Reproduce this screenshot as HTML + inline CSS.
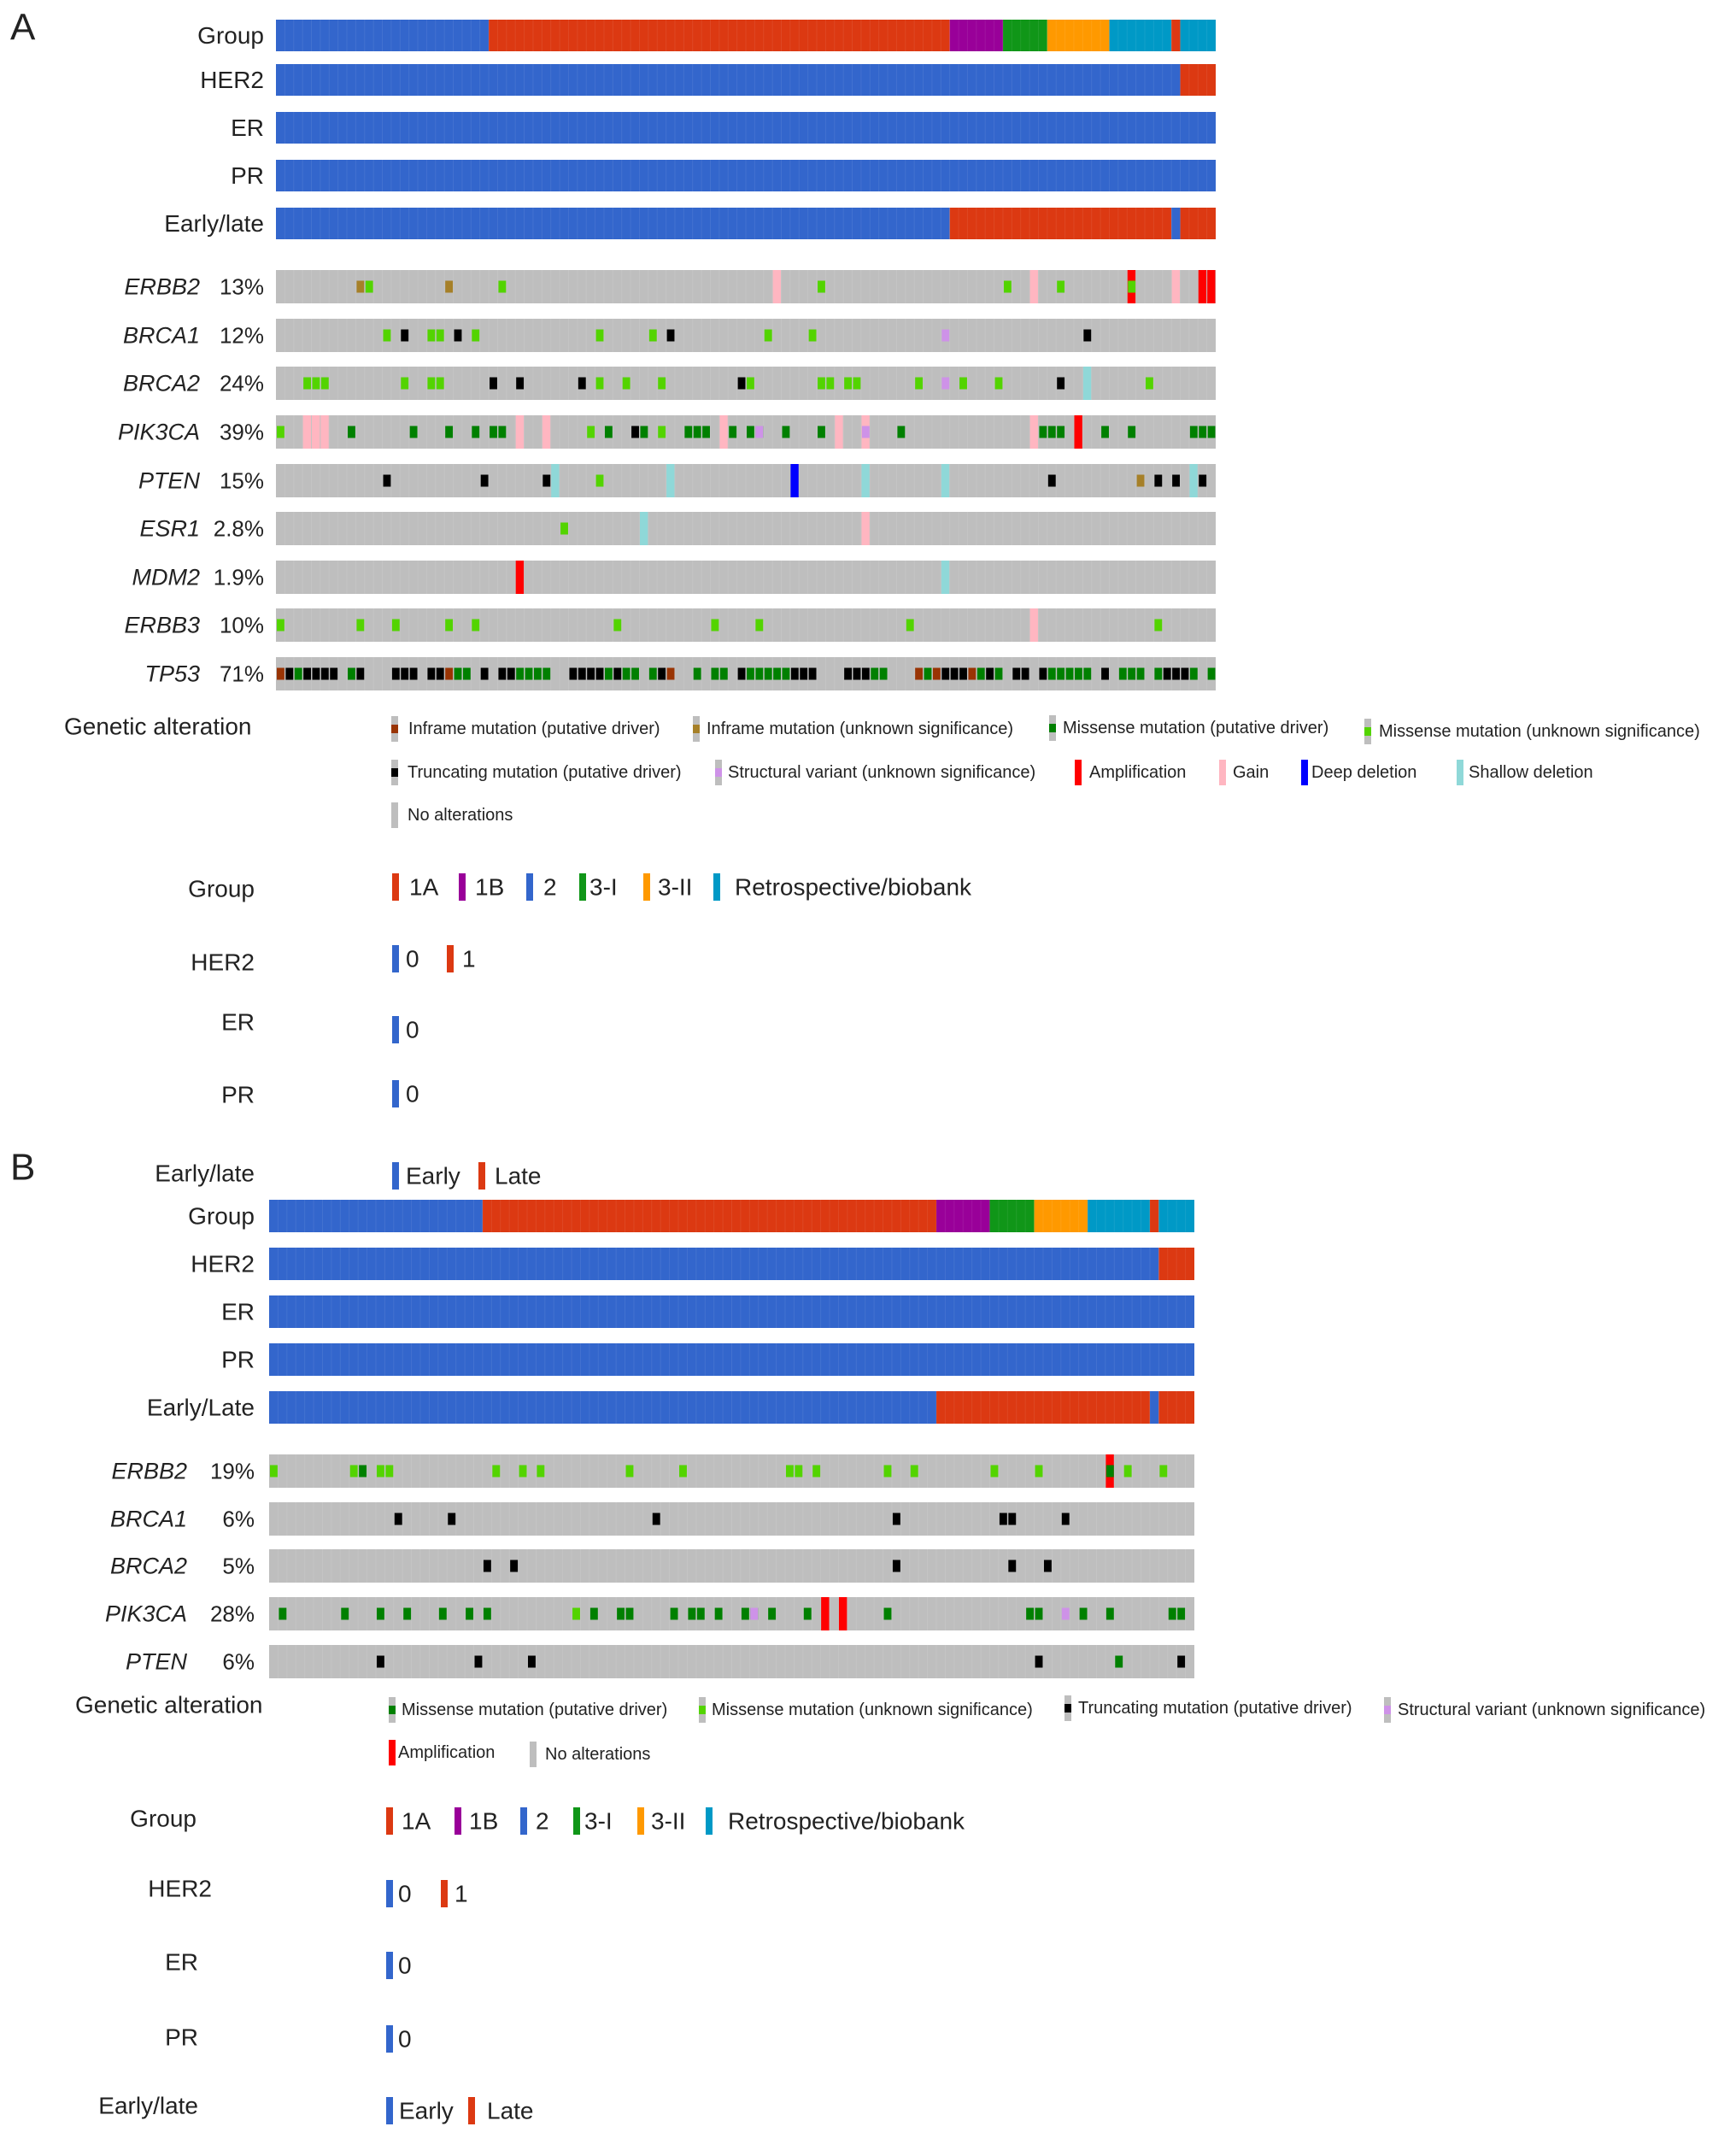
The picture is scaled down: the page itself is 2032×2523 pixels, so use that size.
<!DOCTYPE html>
<html><head><meta charset="utf-8"><style>
html,body{margin:0;padding:0;background:#fff;}
svg{display:block;font-family:"Liberation Sans",Arial,sans-serif;}
</style></head><body>
<svg id="chart" width="2032" height="2523" viewBox="0 0 2032 2523" xmlns="http://www.w3.org/2000/svg"></svg>
<script>
// ---------- DATA ----------
const clinCategories = ['1A','1B','2','3-I','3-II','Retrospective/biobank'];
const groupColors = {'1A':'#dc3912','1B':'#990099','2':'#3366cc','3-I':'#109618','3-II':'#ff9900','Retrospective/biobank':'#0099c6','0':'#3366cc','1':'#dc3912','Early':'#3366cc','Late':'#dc3912'};
const altColors = {M:'#008000',U:'#53d400',T:'#000000',I:'#993404',IU:'#a68028',SV:'#ce92e8',A:'#ff0000',G:'#ffb6c1',D:'#0000ff',S:'#8fd8d8'};
const cnaTypes = ['A','G','D','S'];

const nSamplesA = 106;
const groupA = [[0,24,'2'],[24,76,'1A'],[76,82,'1B'],[82,87,'3-I'],[87,94,'3-II'],[94,101,'Retrospective/biobank'],[101,102,'1A'],[102,106,'Retrospective/biobank']];
const her2A = [[0,102,'0'],[102,106,'1']];
const erA = [[0,106,'0']];
const prA = [[0,106,'0']];
const earlyA = [[0,76,'Early'],[76,101,'Late'],[101,102,'Early'],[102,106,'Late']];

const genesA = ['ERBB2','BRCA1','BRCA2','PIK3CA','PTEN','ESR1','MDM2','ERBB3','TP53'];
const pctA = ['13%','12%','24%','39%','15%','2.8%','1.9%','10%','71%'];
const A_ERBB2 = [[9,'IU'],[10,'U'],[19,'IU'],[25,'U'],[56,'G'],[61,'U'],[82,'U'],[85,'G'],[88,'U'],[96,'A'],[96,'U'],[101,'G'],[104,'A'],[105,'A']];
const A_BRCA1 = [[12,'U'],[14,'T'],[17,'U'],[18,'U'],[20,'T'],[22,'U'],[36,'U'],[42,'U'],[44,'T'],[55,'U'],[60,'U'],[75,'SV'],[91,'T']];
const A_BRCA2 = [[3,'U'],[4,'U'],[5,'U'],[14,'U'],[17,'U'],[18,'U'],[24,'T'],[27,'T'],[34,'T'],[36,'U'],[39,'U'],[43,'U'],[52,'T'],[53,'U'],[61,'U'],[62,'U'],[64,'U'],[65,'U'],[72,'U'],[75,'SV'],[77,'U'],[81,'U'],[88,'T'],[91,'S'],[98,'U']];
const A_PIK3CA = [[0,'U'],[3,'G'],[4,'G'],[5,'G'],[8,'M'],[15,'M'],[19,'M'],[22,'M'],[24,'M'],[25,'M'],[27,'G'],[30,'G'],[35,'U'],[37,'M'],[40,'T'],[41,'M'],[43,'U'],[46,'M'],[47,'M'],[48,'M'],[50,'G'],[51,'M'],[53,'M'],[54,'M'],[54,'SV'],[57,'M'],[63,'G'],[61,'M'],[66,'G'],[66,'SV'],[70,'M'],[85,'G'],[86,'M'],[87,'M'],[88,'M'],[90,'A'],[93,'M'],[96,'M'],[103,'M'],[104,'M'],[105,'M']];
const A_PTEN = [[12,'T'],[23,'T'],[30,'T'],[31,'S'],[36,'U'],[44,'S'],[58,'D'],[66,'S'],[75,'S'],[87,'T'],[97,'IU'],[99,'T'],[101,'T'],[103,'S'],[104,'T']];
const A_ESR1 = [[32,'U'],[41,'S'],[66,'G']];
const A_MDM2 = [[27,'A'],[75,'S']];
const A_ERBB3 = [[0,'U'],[9,'U'],[13,'U'],[19,'U'],[22,'U'],[38,'U'],[49,'U'],[54,'U'],[71,'U'],[85,'G'],[99,'U']];
const A_TP53 = [[0,'I'],[1,'T'],[2,'M'],[3,'T'],[4,'T'],[5,'T'],[6,'T'],[8,'M'],[9,'T'],[13,'T'],[14,'T'],[15,'T'],[17,'T'],[18,'T'],[19,'I'],[20,'M'],[21,'M'],[23,'T'],[25,'T'],[26,'T'],[27,'M'],[28,'M'],[29,'M'],[30,'M'],[33,'T'],[34,'T'],[35,'T'],[36,'T'],[37,'M'],[38,'T'],[39,'M'],[40,'M'],[42,'M'],[43,'T'],[44,'I'],[47,'M'],[49,'M'],[50,'M'],[52,'T'],[53,'M'],[54,'M'],[55,'M'],[56,'M'],[57,'M'],[58,'T'],[59,'T'],[60,'T'],[64,'T'],[65,'T'],[66,'T'],[67,'M'],[68,'M'],[72,'I'],[73,'M'],[74,'I'],[75,'T'],[76,'T'],[77,'T'],[78,'I'],[79,'M'],[80,'T'],[81,'M'],[83,'T'],[84,'T'],[86,'T'],[87,'M'],[88,'M'],[89,'M'],[90,'M'],[91,'M'],[93,'T'],[95,'M'],[96,'M'],[97,'M'],[99,'M'],[100,'T'],[101,'T'],[102,'T'],[103,'M'],[105,'M']];
const altsA = [A_ERBB2,A_BRCA1,A_BRCA2,A_PIK3CA,A_PTEN,A_ESR1,A_MDM2,A_ERBB3,A_TP53];

const nSamplesB = 104;
const groupB = [[0,24,'2'],[24,75,'1A'],[75,81,'1B'],[81,86,'3-I'],[86,92,'3-II'],[92,99,'Retrospective/biobank'],[99,100,'1A'],[100,104,'Retrospective/biobank']];
const her2B = [[0,100,'0'],[100,104,'1']];
const erB = [[0,104,'0']];
const prB = [[0,104,'0']];
const earlyB = [[0,75,'Early'],[75,99,'Late'],[99,100,'Early'],[100,104,'Late']];
const genesB = ['ERBB2','BRCA1','BRCA2','PIK3CA','PTEN'];
const pctB = ['19%','6%','5%','28%','6%'];
const B_ERBB2 = [[0,'U'],[9,'U'],[10,'M'],[12,'U'],[13,'U'],[25,'U'],[28,'U'],[30,'U'],[40,'U'],[46,'U'],[58,'U'],[59,'U'],[61,'U'],[69,'U'],[72,'U'],[81,'U'],[86,'U'],[94,'A'],[94,'M'],[96,'U'],[100,'U']];
const B_BRCA1 = [[14,'T'],[20,'T'],[43,'T'],[70,'T'],[82,'T'],[83,'T'],[89,'T']];
const B_BRCA2 = [[24,'T'],[27,'T'],[70,'T'],[83,'T'],[87,'T']];
const B_PIK3CA = [[1,'M'],[8,'M'],[12,'M'],[15,'M'],[19,'M'],[22,'M'],[24,'M'],[34,'U'],[36,'M'],[39,'M'],[40,'M'],[45,'M'],[47,'M'],[48,'M'],[50,'M'],[53,'M'],[54,'M'],[54,'SV'],[56,'M'],[60,'M'],[62,'A'],[64,'A'],[69,'M'],[85,'M'],[86,'M'],[89,'SV'],[91,'M'],[94,'M'],[101,'M'],[102,'M']];
const B_PTEN = [[12,'T'],[23,'T'],[29,'T'],[86,'T'],[95,'M'],[102,'T']];
const altsB = [B_ERBB2,B_BRCA1,B_BRCA2,B_PIK3CA,B_PTEN];

// ---------- DRAW ----------
const svg = document.getElementById('chart');
const NS = 'http://www.w3.org/2000/svg';
function mk(tag, attrs, parent){const e=document.createElementNS(NS,tag);for(const k in attrs)e.setAttribute(k,attrs[k]);(parent||svg).appendChild(e);return e;}
function txt(x,y,s,size,anchor,italic,parent){const t=mk('text',{x:x,y:y,'font-size':size,'text-anchor':anchor||'start','dominant-baseline':'central',fill:'#222'},parent);if(italic)t.setAttribute('font-style','italic');t.textContent=s;return t;}

function xScale(x0,x1,n){const w=(x1-x0)/n;return c=>x0+c*w;}

function drawPanel(p){
  const g=mk('g',{});
  
  
  const xs=xScale(p.x0,p.x1,p.n), cw=(p.x1-p.x0)/p.n;
  p.clin.forEach((tr,i)=>{
    const y=p.clinY[i];
    const lab=txt(p.labelRight,y+p.clinH/2,tr.label,28,'end',false,g);
    
    
    tr.data.forEach(seg=>{
      const r=mk('rect',{x:xs(seg[0]),y:y,width:xs(seg[1])-xs(seg[0]),height:p.clinH,fill:groupColors[seg[2]]},g);
      
      
    });
    for(let c=1;c<p.n;c++) mk('line',{x1:xs(c),x2:xs(c),y1:y,y2:y+p.clinH,stroke:'#ffffff','stroke-opacity':0.08,'stroke-width':1},g);
  });
  p.genes.forEach((gname,i)=>{
    const y=p.geneY[i], h=p.geneH;
    const gl=txt(p.geneRight,y+h/2,gname,27,'end',true,g);
    
    
    const pl=txt(p.labelRight,y+h/2,p.pct[i],26,'end',false,g);
    
    
    const bg=mk('rect',{x:p.x0,y:y,width:p.x1-p.x0,height:h,fill:'#bebebe'},g);
    
    
    for(let c=1;c<p.n;c++) mk('line',{x1:xs(c),x2:xs(c),y1:y,y2:y+h,stroke:'#ffffff','stroke-opacity':0.1,'stroke-width':1},g);
    const alts=p.alts[i];
    alts.filter(a=>cnaTypes.includes(a[1])).forEach(a=>{
      const r=mk('rect',{x:xs(a[0])+0.5,y:y,width:cw-1,height:h,fill:altColors[a[1]]},g);
      
      
    });
    alts.filter(a=>!cnaTypes.includes(a[1])).forEach(a=>{
      const r=mk('rect',{x:xs(a[0])+1,y:y+h/2-7,width:cw-1.5,height:14,fill:altColors[a[1]]},g);
      
      
    });
  });
}

drawPanel({name:'panel-a-oncoprint',x0:323,x1:1423,n:nSamplesA,labelRight:309,geneRight:234,
  clin:[{key:'group',label:'Group',data:groupA},{key:'her2',label:'HER2',data:her2A},{key:'er',label:'ER',data:erA},{key:'pr',label:'PR',data:prA},{key:'early-late',label:'Early/late',data:earlyA}],
  clinY:[23,75,131,187,243],clinH:37,genes:genesA,pct:pctA,alts:altsA,
  geneY:[316,373,429,486,543,599,656,712,769],geneH:39});

drawPanel({name:'panel-b-oncoprint',x0:315,x1:1398,n:nSamplesB,labelRight:298,geneRight:219,
  clin:[{key:'group',label:'Group',data:groupB},{key:'her2',label:'HER2',data:her2B},{key:'er',label:'ER',data:erB},{key:'pr',label:'PR',data:prB},{key:'early-late',label:'Early/Late',data:earlyB}],
  clinY:[1404,1460,1516,1572,1628],clinH:38,genes:genesB,pct:pctB,alts:altsB,
  geneY:[1702,1758,1813,1869,1925],geneH:39});

let t=txt(12,32,'A',44,'start',false);  
t=txt(12,1366,'B',44,'start',false);  

function altSwatch(x,y,type){
  const g=mk('g',{});
  
  
  if(type==='none'){mk('rect',{x:x,y:y-15,width:8,height:30,fill:'#bebebe'},g);return;}
  if(cnaTypes.includes(type)){mk('rect',{x:x,y:y-15,width:8,height:30,fill:altColors[type]},g);return;}
  mk('rect',{x:x,y:y-15,width:8,height:30,fill:'#bebebe'},g);
  mk('rect',{x:x,y:y-5,width:8,height:10,fill:altColors[type]},g);
}
function altItem(x,tx,y,type,label){
  altSwatch(x,y,type);
  const e=txt(tx,y,label,20,'start',false);
  
  
}
function catItem(x,tx,y,cat,label,size){
  const r=mk('rect',{x:x,y:y-16,width:8,height:32,fill:groupColors[cat]});
  
  
  const e=txt(tx,y,label,size||28,'start',false);
  
  
}
function legLabel(x,y,s,anchor){const e=txt(x,y,s,28,anchor);}

legLabel(75,850,'Genetic alteration','start');
altItem(458,478,853,'I','Inframe mutation (putative driver)');
altItem(811,827,853,'IU','Inframe mutation (unknown significance)');
altItem(1228,1244,852,'M','Missense mutation (putative driver)');
altItem(1597,1614,856,'U','Missense mutation (unknown significance)');
altItem(458,477,904,'T','Truncating mutation (putative driver)');
altItem(837,852,904,'SV','Structural variant (unknown significance)');
altItem(1258,1275,904,'A','Amplification');
altItem(1427,1443,904,'G','Gain');
altItem(1523,1535,904,'D','Deep deletion');
altItem(1705,1719,904,'S','Shallow deletion');
altItem(458,477,954,'none','No alterations');

legLabel(298,1040,'Group','end');
catItem(459,479,1038,'1A','1A'); catItem(537,556,1038,'1B','1B'); catItem(616,636,1038,'2','2');
catItem(678,690,1038,'3-I','3-I'); catItem(753,770,1038,'3-II','3-II'); catItem(835,860,1038,'Retrospective/biobank','Retrospective/biobank');
legLabel(298,1126,'HER2','end');
catItem(459,475,1122,'0','0'); catItem(523,541,1122,'1','1');
legLabel(298,1196,'ER','end');
catItem(459,475,1205,'0','0');
legLabel(298,1281,'PR','end');
catItem(459,475,1280,'0','0');

legLabel(298,1373,'Early/late','end');
catItem(459,475,1376,'Early','Early'); catItem(560,579,1376,'Late','Late');

legLabel(88,1995,'Genetic alteration','start');
altItem(455,470,2001,'M','Missense mutation (putative driver)');
altItem(818,833,2001,'U','Missense mutation (unknown significance)');
altItem(1246,1262,1999,'T','Truncating mutation (putative driver)');
altItem(1620,1636,2001,'SV','Structural variant (unknown significance)');
altItem(455,466,2051,'A','Amplification');
altItem(620,638,2053,'none','No alterations');

legLabel(230,2128,'Group','end');
catItem(452,470,2131,'1A','1A'); catItem(532,549,2131,'1B','1B'); catItem(609,627,2131,'2','2');
catItem(671,684,2131,'3-I','3-I'); catItem(746,762,2131,'3-II','3-II'); catItem(826,852,2131,'Retrospective/biobank','Retrospective/biobank');
legLabel(248,2210,'HER2','end');
catItem(452,466,2216,'0','0'); catItem(516,532,2216,'1','1');
legLabel(232,2296,'ER','end');
catItem(452,466,2300,'0','0');
legLabel(232,2384,'PR','end');
catItem(452,466,2386,'0','0');
legLabel(232,2464,'Early/late','end');
catItem(452,467,2470,'Early','Early'); catItem(548,570,2470,'Late','Late');
</script>
</body></html>
